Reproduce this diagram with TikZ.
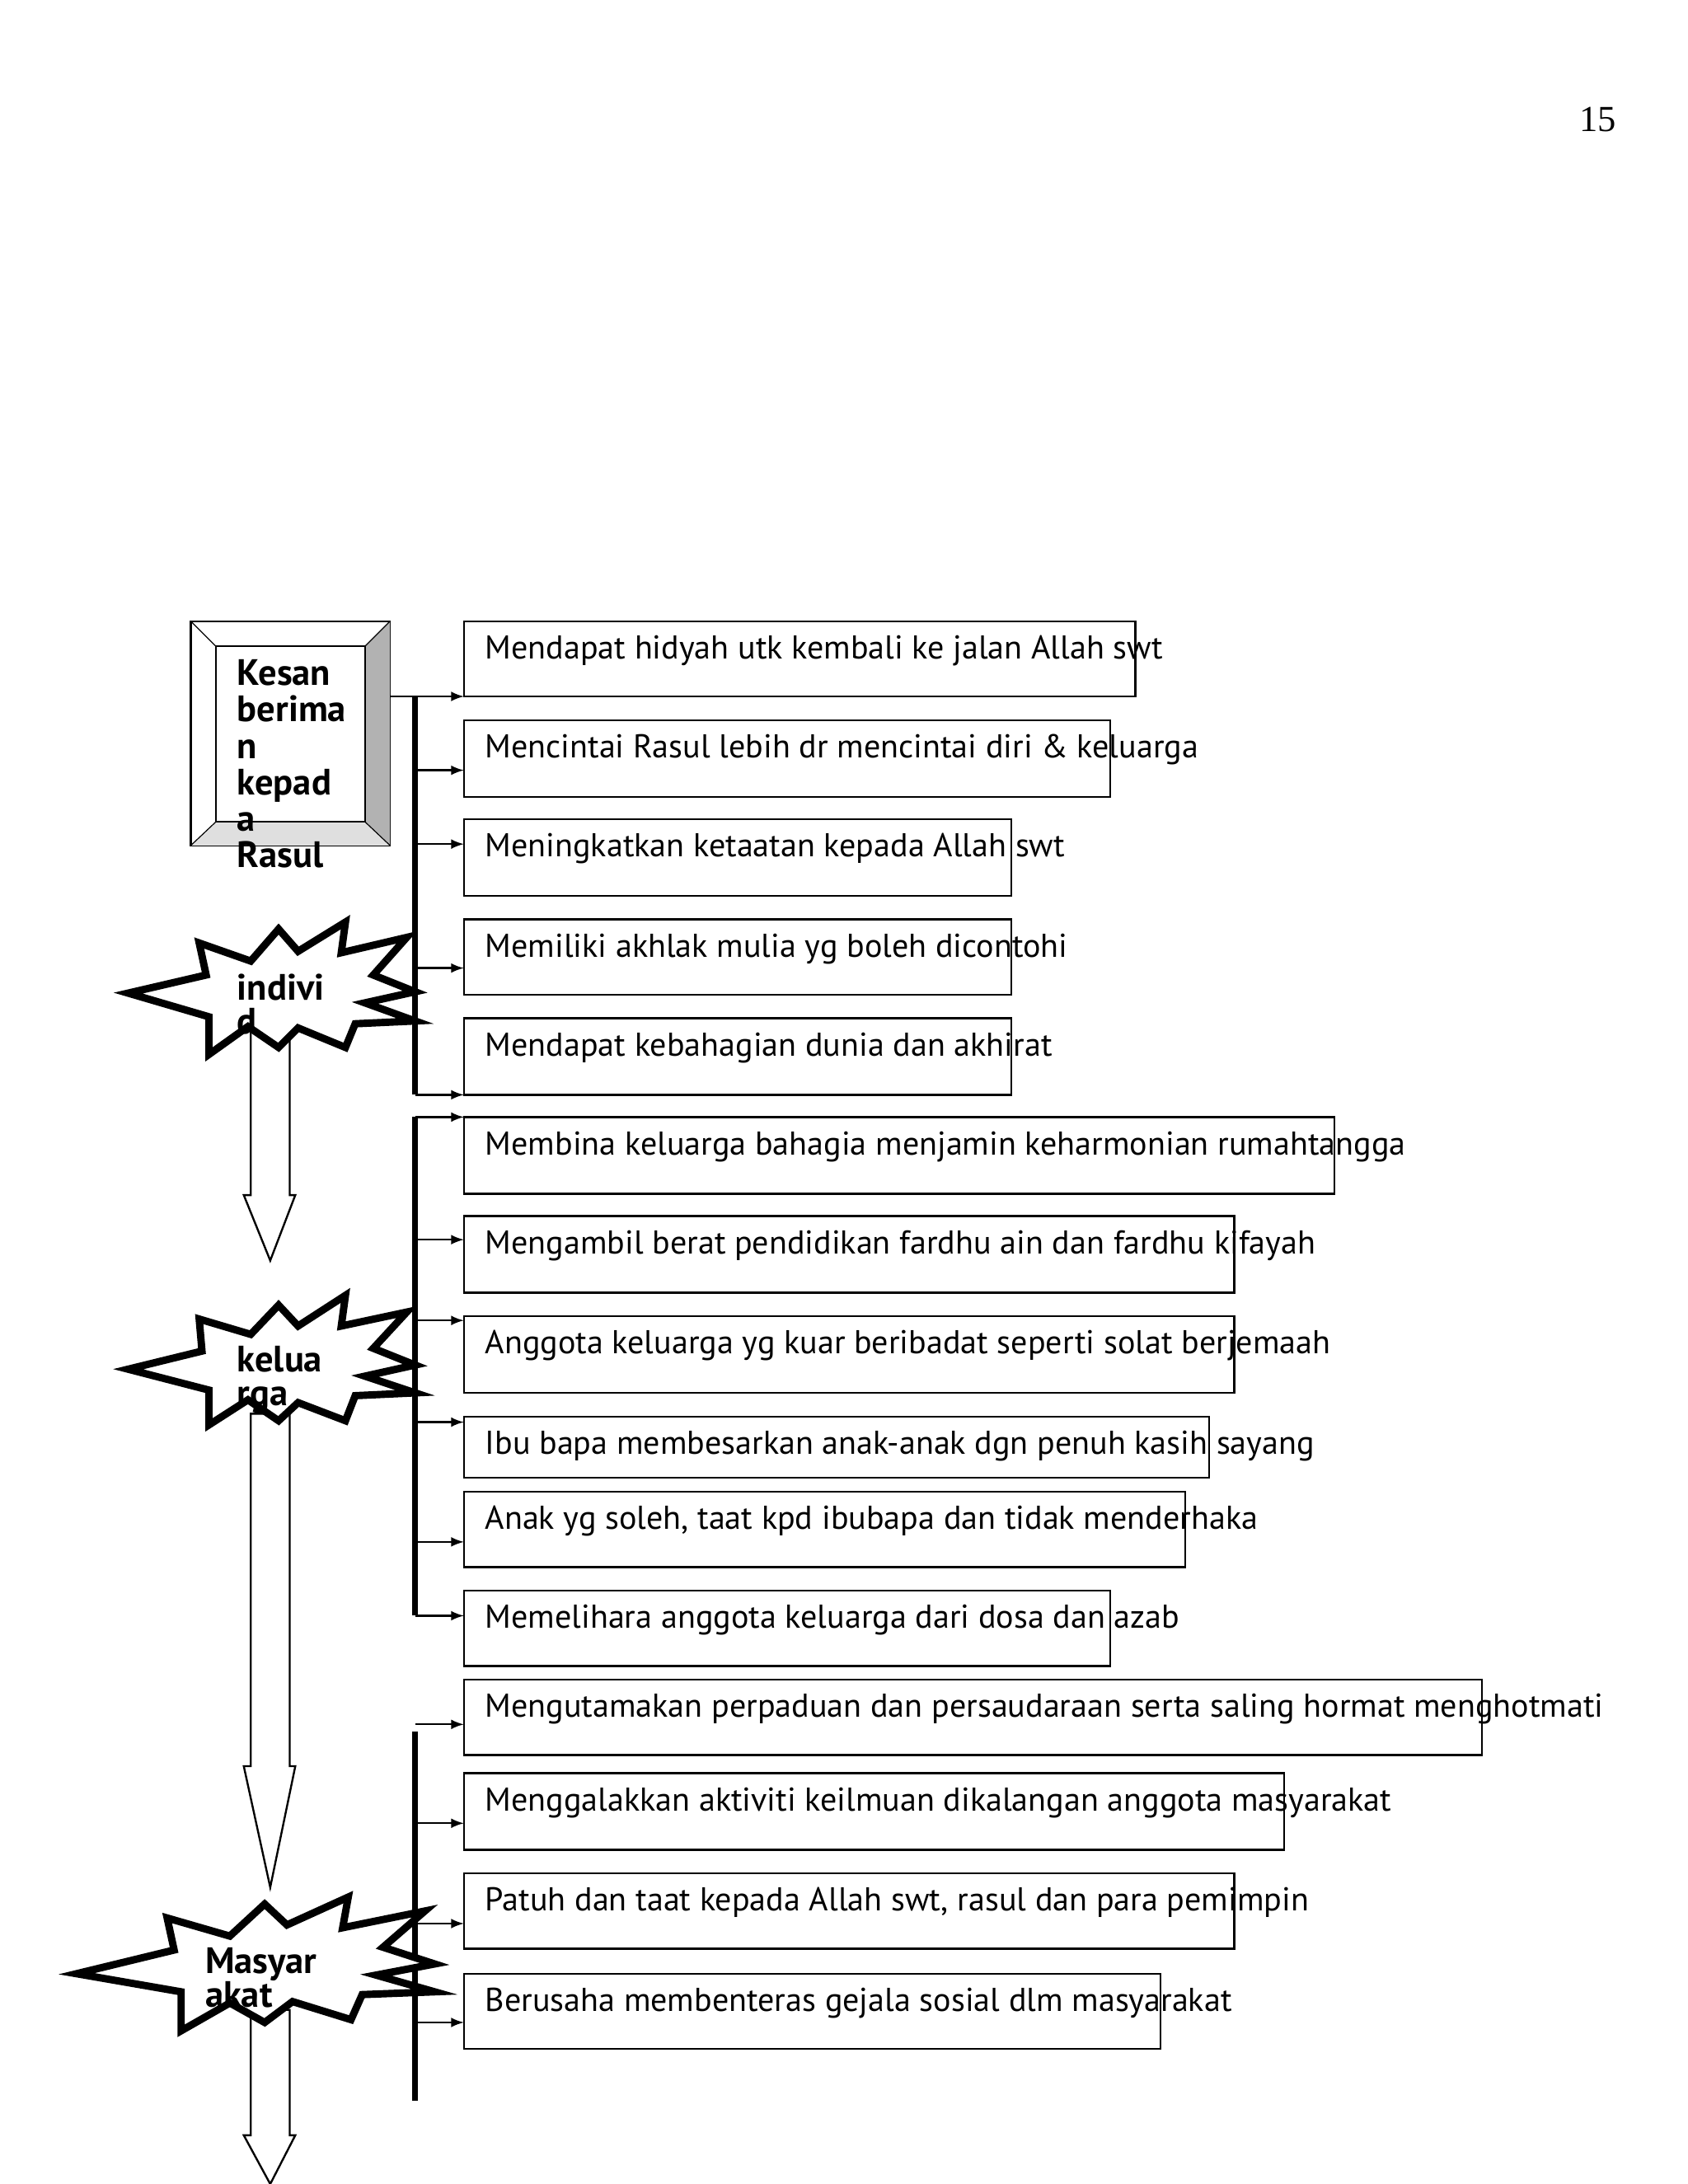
\documentclass[tikz,border=0pt]{standalone}
\usepackage{fontspec}
\setmainfont{PT Sans}
\newfontfamily\serif{Liberation Serif}
\begin{document}
\begin{tikzpicture}[x=0.02cm,y=-0.02cm,
  item/.style={draw,thick,anchor=north west,inner sep=0pt},
  lbl/.style={anchor=base west,font=\fontsize{13.5}{14}\selectfont,inner sep=0pt},
  bar/.style={line width=2.5pt},
  arr/.style={-latex,thick},
  burst/.style={draw,line width=3pt,fill=white,line join=miter},
  hollow/.style={draw,thick,fill=white},
  kt/.style={font=\fontsize{15}{26}\selectfont\bfseries,anchor=base west,inner sep=0pt}]
\useasboundingbox (0,0) rectangle (1211.3,1568);
\node[anchor=center,font=\serif\fontsize{15}{16}\selectfont] (pg) at (1147,86) {15};
% Kesan box
\draw[thick] (137,446) rectangle (280,607);
\fill[gray!60] (262,464)--(280,446)--(280,607)--(262,590)--cycle;
\fill[gray!25] (155,590)--(262,590)--(280,607)--(137,607)--cycle;
\draw[thick] (155,464) rectangle (262,590);
\draw (137,446)--(155,464) (280,446)--(262,464) (137,607)--(155,590) (280,607)--(262,590);
\coordinate (kb) at (280,500);
\foreach \t [count=\i] in {Kesan,berima,n,kepad,a,Rasul}
  \node[kt] at (170,{492+26.2*(\i-1)}) {\t};
% boxes
\def\boxes{333/815/446/500/Mendapat hidyah utk kembali ke jalan Allah swt,
333/797/517/572/Mencintai Rasul lebih dr mencintai diri \& keluarga,
333/726/588/643/Meningkatkan ketaatan kepada Allah swt,
333/726/660/714/Memiliki akhlak mulia yg boleh dicontohi,
333/726/731/786/Mendapat kebahagian dunia dan akhirat,
333/958/802/857/Membina keluarga bahagia menjamin keharmonian rumahtangga,
333/886/873/928/Mengambil berat pendidikan fardhu ain dan fardhu kifayah,
333/886/945/1000/Anggota keluarga yg kuar beribadat seperti solat berjemaah,
333/868/1017/1061/Ibu bapa membesarkan anak-anak dgn penuh kasih sayang,
333/851/1071/1125/{Anak yg soleh, taat kpd ibubapa dan tidak menderhaka},
333/797/1142/1196/Memelihara anggota keluarga dari dosa dan azab,
333/1064/1206/1260/Mengutamakan perpaduan dan persaudaraan serta saling hormat menghotmati,
333/922/1273/1328/Menggalakkan aktiviti keilmuan dikalangan anggota masyarakat,
333/886/1345/1399/{Patuh dan taat kepada Allah swt, rasul dan para pemimpin},
333/833/1417/1471/Berusaha membenteras gejala sosial dlm masyarakat}
\foreach \a/\b/\c/\d/\t [count=\i] in \boxes {
  \draw[thick] (\a,\c) rectangle (\b,\d);
  \node[lbl] (b\i) at (348,\c+27) {\t};
}
% bars
\draw[bar] (298,500)--(298,786);
\draw[bar] (298,802)--(298,1160);
\draw[bar] (298,1243)--(298,1508);
\draw[arr] (kb)--(333,500);
\foreach \y in {553,606,695,786,802,890,948,1021,1107,1160,1238,1309,1381,1452}
  \draw[arr] (298,\y)--(333,\y);
% hollow arrows
\foreach \s/\h/\e in {727/858/905,1015/1268/1355,1443/1533/1568}
  \draw[hollow] (180,\s)--(208,\s)--(208,\h)--(212,\h)--(194,\e)--(175,\h)--(180,\h)--cycle;
% bursts
\draw[burst] (92,713)--(148,700)--(143,677)--(180,690)--(200,667)--(214,683)--(248,662)--(245,684)--(292,673)--(268,700)--(298,712)--(262,720)--(298,733)--(255,735)--(248,752)--(214,738)--(200,752)--(178,737)--(150,757)--(150,730)--cycle;
\node[kt] at (170,718) {indivi};
\node[kt] at (170,742) {d};
\draw[burst] (92,983)--(145,970)--(143,947)--(180,958)--(200,937)--(214,952)--(248,930)--(245,952)--(292,942)--(268,968)--(298,980)--(262,988)--(298,1000)--(255,1002)--(248,1020)--(214,1007)--(200,1020)--(178,1005)--(150,1023)--(150,998)--cycle;
\node[kt] at (170,985) {kelua};
\node[kt] at (170,1009) {rga};
\draw[burst] (55,1417)--(125,1400)--(120,1377)--(165,1390)--(190,1367)--(206,1382)--(250,1362)--(246,1384)--(305,1372)--(275,1398)--(312,1410)--(270,1418)--(312,1430)--(260,1432)--(252,1450)--(210,1437)--(190,1452)--(165,1438)--(130,1458)--(130,1430)--cycle;
\node[kt] at (147,1417) {Masyar};
\node[kt] at (147,1441) {akat};
\end{tikzpicture}
\end{document}
